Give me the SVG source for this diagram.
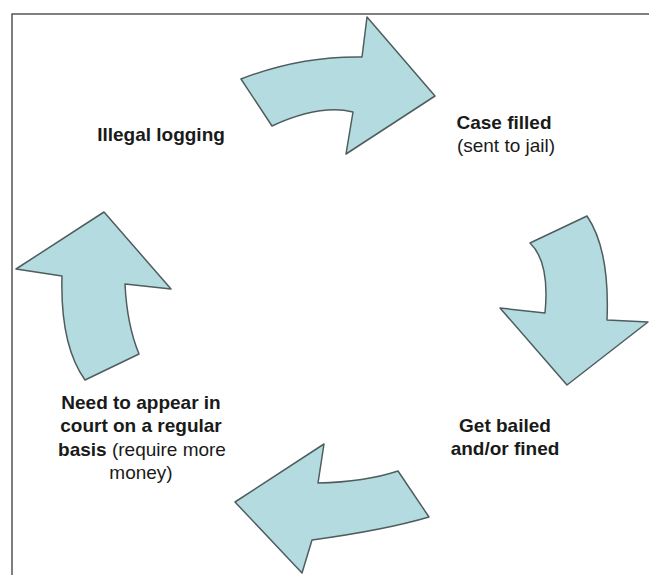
<svg xmlns="http://www.w3.org/2000/svg" width="649" height="575" viewBox="0 0 649 575">
  <style>
    .arrow { fill: #b4dce0; stroke: #4f5d5e; stroke-width: 1.5; stroke-linejoin: round; }
    .frame { fill: none; stroke: #555555; stroke-width: 1.5; }
    text { font-family: "Liberation Sans", Arial, sans-serif; font-size: 19px; fill: #1a1a1a; text-anchor: middle; }
    .b { font-weight: bold; }
    .r { font-weight: normal; }
  </style>
  <rect width="649" height="575" fill="#ffffff"/>
  <path class="frame" d="M12,575 L12,14 L649,14"/>

  <g id="connectors">
    <path class="arrow" d="M241,79 Q300,56 362,57 L367,17 L435,96 L346,154 L353,112 Q320,104 272,126 Z"/>
    <path class="arrow" d="M530,243 L587,216 Q610,250 607,320 L648,322 L567,385 L500,308 L545,313 Q550,262 530,243 Z"/>
    <path class="arrow" d="M398,471 L429,517 Q385,530 312,540 L302,573 L235,502 L324,444 L318,483 Q365,482 398,471 Z"/>
    <path class="arrow" d="M104,212 L171,289 L125,284 Q127,325 139,354 L85,380 Q60,345 62,276 L16,269 Z"/>
  </g>

  <g id="illegal-logging">
    <text class="b" x="161" y="141">Illegal logging</text>
  </g>
  <g id="case-filled">
    <text class="b" x="504" y="129">Case filled</text>
    <text class="r" x="506" y="152">(sent to jail)</text>
  </g>
  <g id="get-bailed">
    <text class="b" x="505" y="432">Get bailed</text>
    <text class="b" x="505" y="455">and/or fined</text>
  </g>
  <g id="appear-in-court">
    <text class="b" x="141" y="409">Need to appear in</text>
    <text class="b" x="141" y="432">court on a regular</text>
    <text x="142" y="456"><tspan class="b">basis</tspan><tspan class="r"> (require more</tspan></text>
    <text class="r" x="141" y="479">money)</text>
  </g>
</svg>
